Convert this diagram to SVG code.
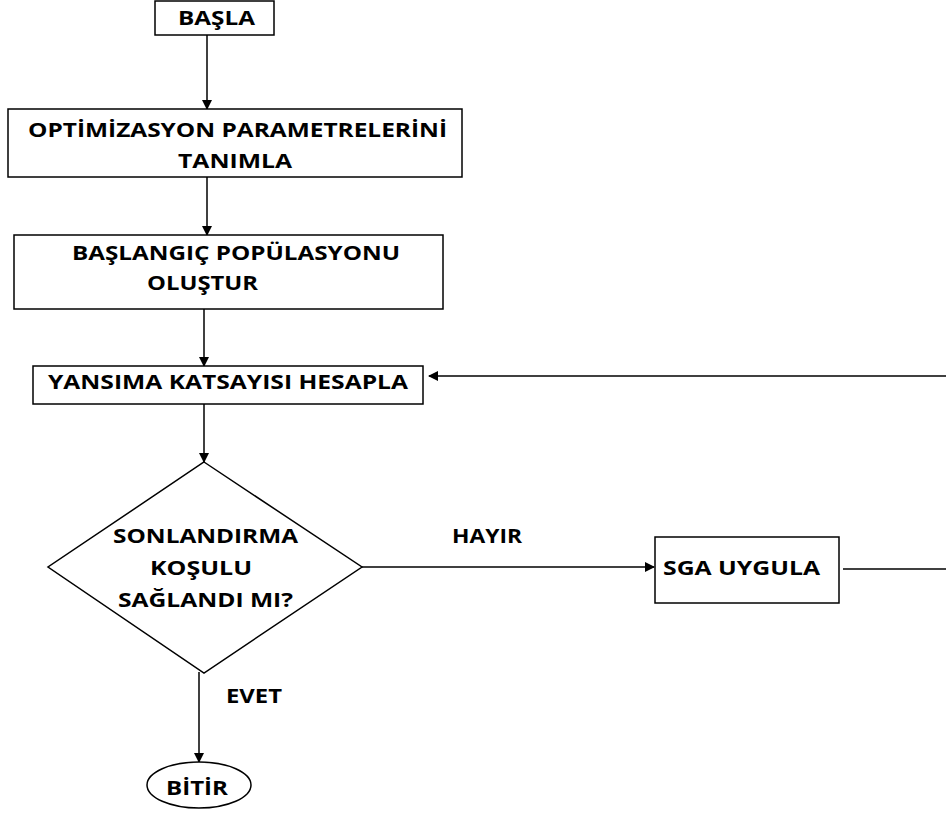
<svg xmlns="http://www.w3.org/2000/svg" width="946" height="820" viewBox="0 0 946 820">
<defs>
<marker id="ah" markerWidth="10" markerHeight="10" refX="9" refY="5" orient="auto" markerUnits="userSpaceOnUse">
<path d="M0,0 L10,5 L0,10 Z" fill="#000"/>
</marker>
<style>
.box{fill:#fff;stroke:#000;stroke-width:1.5}
.t{font-family:"Open Sans","Liberation Sans",sans-serif;font-weight:bold;font-size:19px;fill:#000}
.c{fill:none;stroke:#000;stroke-width:1.5}
</style>
</defs>
<rect width="946" height="820" fill="#fff"/>
<g id="connectors">
<line class="c" x1="207" y1="35" x2="207" y2="109" marker-end="url(#ah)"/>
<line class="c" x1="207" y1="177" x2="207" y2="235" marker-end="url(#ah)"/>
<line class="c" x1="204" y1="309" x2="204" y2="366" marker-end="url(#ah)"/>
<line class="c" x1="204" y1="404" x2="204" y2="462" marker-end="url(#ah)"/>
<line class="c" x1="362" y1="567" x2="654" y2="567" marker-end="url(#ah)"/>
<line class="c" x1="843" y1="569" x2="946" y2="569"/>
<line class="c" x1="946" y1="376" x2="429" y2="376" marker-end="url(#ah)"/>
<line class="c" x1="199" y1="672" x2="199" y2="762" marker-end="url(#ah)"/>
<text class="t" x="452" y="543" textLength="70" lengthAdjust="spacingAndGlyphs">HAYIR</text>
<text class="t" x="226" y="703" textLength="56" lengthAdjust="spacingAndGlyphs">EVET</text>
</g>
<g id="basla">
<rect class="box" x="155" y="1" width="119" height="34"/>
<text class="t" x="178" y="25" textLength="77" lengthAdjust="spacingAndGlyphs">BAŞLA</text>
</g>
<g id="parametre">
<rect class="box" x="8" y="109" width="454" height="68"/>
<text class="t" x="28" y="137" textLength="419" lengthAdjust="spacingAndGlyphs">OPTİMİZASYON PARAMETRELERİNİ</text>
<text class="t" x="178" y="168" textLength="114" lengthAdjust="spacingAndGlyphs">TANIMLA</text>
</g>
<g id="populasyon">
<rect class="box" x="14" y="235" width="429" height="74"/>
<text class="t" x="72" y="260" textLength="328" lengthAdjust="spacingAndGlyphs">BAŞLANGIÇ POPÜLASYONU</text>
<text class="t" x="147" y="290" textLength="111" lengthAdjust="spacingAndGlyphs">OLUŞTUR</text>
</g>
<g id="yansima">
<rect class="box" x="33" y="366" width="390" height="38"/>
<text class="t" x="48" y="389" textLength="360" lengthAdjust="spacingAndGlyphs">YANSIMA KATSAYISI HESAPLA</text>
</g>
<g id="kosul">
<polygon class="box" points="204,462 362,567 204,673 48,567"/>
<text class="t" x="113" y="543" textLength="185" lengthAdjust="spacingAndGlyphs">SONLANDIRMA</text>
<text class="t" x="150" y="575" textLength="102" lengthAdjust="spacingAndGlyphs">KOŞULU</text>
<text class="t" x="118" y="607" textLength="175" lengthAdjust="spacingAndGlyphs">SAĞLANDI MI?</text>
</g>
<g id="sga">
<rect class="box" x="655" y="537" width="184" height="66"/>
<text class="t" x="663" y="575" textLength="157" lengthAdjust="spacingAndGlyphs">SGA UYGULA</text>
</g>
<g id="bitir">
<ellipse class="box" cx="199" cy="785" rx="52" ry="23"/>
<text class="t" x="166" y="795" textLength="62" lengthAdjust="spacingAndGlyphs">BİTİR</text>
</g>
</svg>
